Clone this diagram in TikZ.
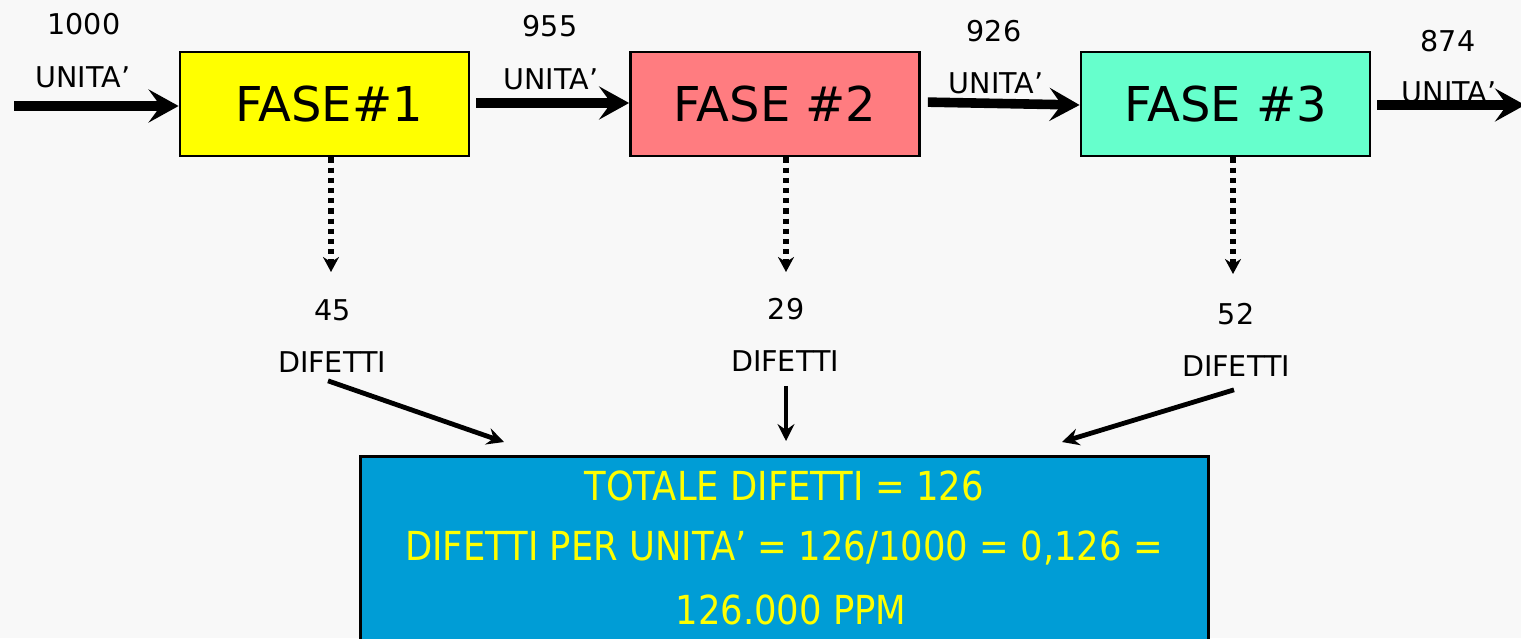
\documentclass[tikz,border=0pt]{standalone}
\usepackage{fontspec}
\setmainfont{DejaVu Sans}
\newfontfamily\narrowfont[FakeStretch=0.885]{DejaVu Sans}
\usetikzlibrary{arrows.meta,calc}
\definecolor{paper}{HTML}{F8F8F8}
\definecolor{faseone}{HTML}{FFFF00}
\definecolor{fasetwo}{HTML}{FF7C80}
\definecolor{fasethree}{HTML}{66FFCC}
\definecolor{totalblue}{HTML}{009DD6}
\definecolor{totaltext}{HTML}{FFFF00}
\tikzset{
  fase/.style={draw=black, line width=1.4pt, minimum width=144.5pt,
    minimum height=52pt, inner sep=0pt, font=\fontsize{24}{28}\selectfont},
  flowlabel/.style={inner sep=0pt, font=\fontsize{14.3}{16}\selectfont},
  flow/.style={line width=4.8pt,
    -{Stealth[length=15pt,width=16.5pt,inset=6pt]}},
  scrap/.style={line width=2.6pt, dash pattern=on 2.6pt off 2.5pt,
    -{Stealth[length=7.5pt,width=8pt,inset=2.5pt]}},
  collect/.style={line width=2.4pt,
    -{Stealth[length=8.5pt,width=8.5pt,inset=3pt]}},
  totalline/.style={inner sep=0pt, text=totaltext,
    font=\narrowfont\fontsize{20}{24}\selectfont}
}
\begin{document}
\begin{tikzpicture}[x=0.5pt,y=-0.5pt]
\useasboundingbox (0,0) rectangle (1521,638);
\fill[paper] (0,0) rectangle (1521,638);

% process steps
\node[fase, fill=faseone]   (f1) at (324.5,104) {\hspace*{4.5pt}FASE\#1};
\node[fase, fill=fasetwo]   (f2) at (775,104)   {FASE \#2};
\node[fase, fill=fasethree] (f3) at (1225.5,104) {FASE \#3};

% unit counts along the flow
\node[flowlabel] (n0) at (84,24)   {1000};
\node[flowlabel] (u0) at (83,77)   {UNITA’};
\node[flowlabel] (n1) at (550,26)  {955};
\node[flowlabel] (u1) at (551,79)  {UNITA’};
\node[flowlabel] (n2) at (994,31)  {926};
\node[flowlabel] (u2) at (996,83)  {UNITA’};
\node[flowlabel] (n3) at (1448,41) {874};
\node[flowlabel] (u3) at (1449,92) {UNITA’};

% main flow
\coordinate (in)  at (14,106);
\coordinate (out) at (1525,105);
\draw[flow] (in) -- (f1.west |- in);
\draw[flow, shorten <=3pt] (f1.east |- 0,103) -- (f2.west |- 0,103);
\draw[flow, shorten <=3.5pt] (f2.east |- 0,102) -- (f3.west |- 0,105);
\draw[flow, shorten <=3pt] (f3.east |- out) -- (out);

% defects per step
\coordinate (d1) at (331,272);
\coordinate (d2) at (786,272);
\coordinate (d3) at (1233,274);
\draw[scrap] (f1.south -| d1) -- (d1);
\draw[scrap] (f2.south -| d2) -- (d2);
\draw[scrap] (f3.south -| d3) -- (d3);

\node[flowlabel] (k1) at (333,310)  {45};
\node[flowlabel] (e1) at (332,362)  {DIFETTI};
\node[flowlabel] (k2) at (786,309)  {29};
\node[flowlabel] (e2) at (785,361)  {DIFETTI};
\node[flowlabel] (k3) at (1236,314) {52};
\node[flowlabel] (e3) at (1236,366) {DIFETTI};

% summary box
\node[draw=black, line width=1.5pt, fill=totalblue, minimum width=424pt,
  minimum height=130pt, inner sep=0pt, anchor=north] (tot) at (784,455) {};
\node[totalline] (t1) at (784,486) {TOTALE DIFETTI = 126};
\node[totalline] (t2) at (784,548) {DIFETTI PER UNITA’ = 126/1000 = 0,126 =};
\node[totalline] (t3) at (791,610) {126.000 PPM};

% defects collected into the total
\coordinate (c1) at (504,442);
\coordinate (c2) at (786,441);
\coordinate (c3) at (1062,442);
\draw[collect] ($(e1.south)+(-4,8)$) -- (c1);
\draw[collect] ($(e2.south)+(1,14)$) -- (c2);
\draw[collect] ($(e3.south)+(-2,13)$) -- (c3);
\end{tikzpicture}
\end{document}
